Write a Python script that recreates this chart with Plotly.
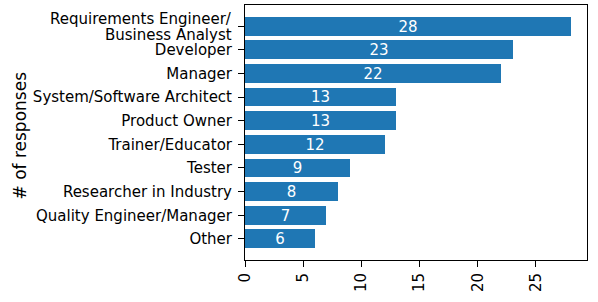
import plotly.graph_objects as go

roles = ["Requirements Engineer/<br>Business Analyst", "Developer", "Manager",
         "System/Software Architect", "Product Owner", "Trainer/Educator", "Tester",
         "Researcher in Industry", "Quality Engineer/Manager", "Other"]
counts = [28, 23, 22, 13, 13, 12, 9, 8, 7, 6]
xticks = [0, 5, 10, 15, 20, 25]
y_title = "# of responses"

n = len(roles)
ypos = [n - 1 - i for i in range(n)]

# multi-line first label drawn as annotations for tighter line spacing
ticktext = ["" if "<br>" in r else r for r in roles]
annotations = []
for yp, r in zip(ypos, roles):
    if "<br>" in r:
        lines = r.split("<br>")
        offs = [0.29, -0.38]
        for ln, off in zip(lines, offs):
            annotations.append(dict(text=ln, xref="paper", yref="y", x=0, y=yp + off,
                                    xanchor="right", yanchor="middle", xshift=-11,
                                    showarrow=False, font=dict(size=15, family="DejaVu Sans")))
annotations.append(dict(text=y_title, xref="paper", yref="paper", x=0, y=0.5,
                        xanchor="center", yanchor="middle", xshift=-226, yshift=-3,
                        textangle=-90, showarrow=False,
                        font=dict(size=17, family="DejaVu Sans", color="black")))

fig = go.Figure(go.Bar(
    x=counts, y=ypos, orientation="h", width=0.8,
    marker=dict(color="#1f77b4", line=dict(width=0)),
    text=[str(c) for c in counts], textposition="inside",
    insidetextanchor="middle", textangle=0,
    textfont=dict(color="white", size=15, family="DejaVu Sans"),
))
fig.update_layout(
    width=598, height=302,
    margin=dict(l=245, r=11, t=5, b=42),
    plot_bgcolor="white", paper_bgcolor="white",
    font=dict(family="DejaVu Sans", size=15, color="black"),
    showlegend=False, bargap=0,
    uniformtext=dict(minsize=15, mode="show"),
    annotations=annotations,
)
fig.update_xaxes(range=[0, 29.4], tickvals=xticks, ticktext=[str(t) for t in xticks],
                 tickangle=-90, showgrid=False, zeroline=False, automargin=False,
                 showline=True, linecolor="black", linewidth=1, mirror=True,
                 ticks="outside", ticklen=6, tickcolor="black")
fig.update_yaxes(range=[-0.89, 9.89], tickvals=ypos, ticktext=ticktext,
                 showgrid=False, zeroline=False, automargin=False,
                 showline=True, linecolor="black", linewidth=1, mirror=True,
                 ticks="outside", ticklen=6, tickcolor="black", ticklabelstandoff=3)
fig.write_html("out.html", config={"displayModeBar": False},
               post_script="document.body.style.margin='0px';")
